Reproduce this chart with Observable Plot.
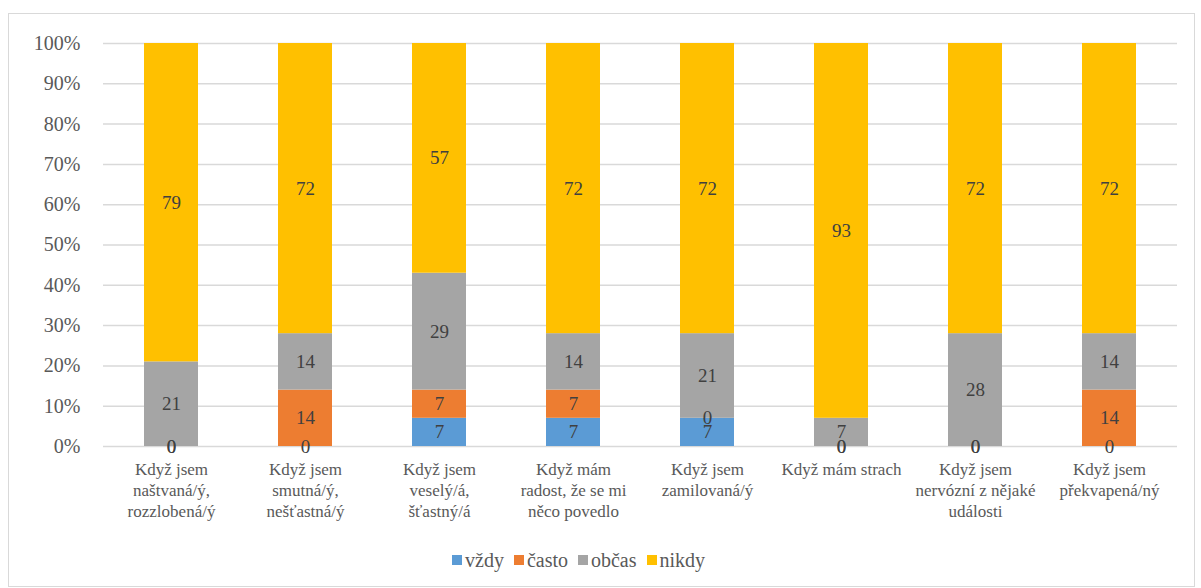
<!DOCTYPE html>
<html><head><meta charset="utf-8">
<script src="https://cdn.jsdelivr.net/npm/d3@7"></script>
<script src="https://cdn.jsdelivr.net/npm/@observablehq/plot@0.6"></script>
<style>
body{margin:0;background:#fff;width:1201px;height:588px;overflow:hidden;position:relative}
#frame{position:absolute;left:8px;top:13px;width:1187px;height:574px;border:1.5px solid #d9d9d9;box-sizing:border-box}
#chart{position:absolute;left:0;top:0}
#legend{position:absolute;top:547px;left:452px;display:flex;align-items:center;font-size:20px;color:#595959;line-height:26px}
#legend .item{display:flex;align-items:center;margin-right:10px}
#legend .sw{width:10px;height:10px;margin-right:3px}
</style>
</head><body>
<div id="frame"></div>
<div id="chart"></div>
<div id="legend"></div>
<script>
const categories = [
  "Když jsem\nnaštvaná/ý,\nrozzlobená/ý",
  "Když jsem\nsmutná/ý,\nnešťastná/ý",
  "Když jsem\nveselý/á,\nšťastný/á",
  "Když mám\nradost, že se mi\nněco povedlo",
  "Když jsem\nzamilovaná/ý",
  "Když mám strach",
  "Když jsem\nnervózní z nějaké\nudálosti",
  "Když jsem\npřekvapená/ný"
];
const seriesNames = ["vždy", "často", "občas", "nikdy"];
const seriesColors = ["#5B9BD5", "#ED7D31", "#A5A5A5", "#FFC000"];
const vzdy  = [0, 0, 7, 7, 7, 0, 0, 0];
const casto = [0, 14, 7, 7, 0, 0, 0, 14];
const obcas = [21, 14, 29, 14, 21, 7, 28, 14];
const nikdy = [79, 72, 57, 72, 72, 93, 72, 72];
const yTicks = [0, 10, 20, 30, 40, 50, 60, 70, 80, 90, 100];

const seriesValues = [vzdy, casto, obcas, nikdy];
const data = [];
seriesNames.forEach((s, i) => {
  categories.forEach((c, j) => data.push({category: c, series: s, value: seriesValues[i][j]}));
});

const FONT = "'Liberation Serif', serif";
const setFont = el => el.style.setProperty("font-family", FONT, "important");

const chart = Plot.plot({
  width: 1201,
  height: 530,
  marginLeft: 103,
  marginRight: 24,
  marginTop: 43,
  marginBottom: 84,
  style: {background: "transparent"},
  x: {domain: categories, paddingInner: 0.6, paddingOuter: 0.3, label: null},
  y: {domain: [0, 100], label: null},
  color: {domain: seriesNames, range: seriesColors},
  marks: [
    Plot.gridY(yTicks, {stroke: "#d9d9d9", strokeOpacity: 1, strokeWidth: 1.5}),
    Plot.axisY(yTicks, {tickSize: 0, tickPadding: 23, tickFormat: d => d + "%", fontSize: 20, fill: "#595959", label: null}),
    Plot.axisX({tickSize: 0, tickPadding: 14, fontSize: 17, fill: "#595959", lineHeight: 1.22, textAnchor: "middle", label: null}),
    Plot.barY(data, Plot.stackY({x: "category", y: "value", z: "series", fill: "series", order: null})),
    Plot.text(data, Plot.stackY({x: "category", y: "value", z: "series", text: d => String(d.value), order: null, fontSize: 19, fill: "#404040"}))
  ]
});
setFont(chart);
chart.querySelectorAll("g, text, tspan").forEach(setFont);
document.getElementById("chart").appendChild(chart);

const legend = document.getElementById("legend");
setFont(legend);
seriesNames.forEach((s, i) => {
  const it = document.createElement("div");
  it.className = "item";
  const sw = document.createElement("span");
  sw.className = "sw";
  sw.style.background = seriesColors[i];
  const t = document.createElement("span");
  t.textContent = s;
  setFont(it); setFont(t);
  it.appendChild(sw); it.appendChild(t);
  legend.appendChild(it);
});
</script>
</body></html>
